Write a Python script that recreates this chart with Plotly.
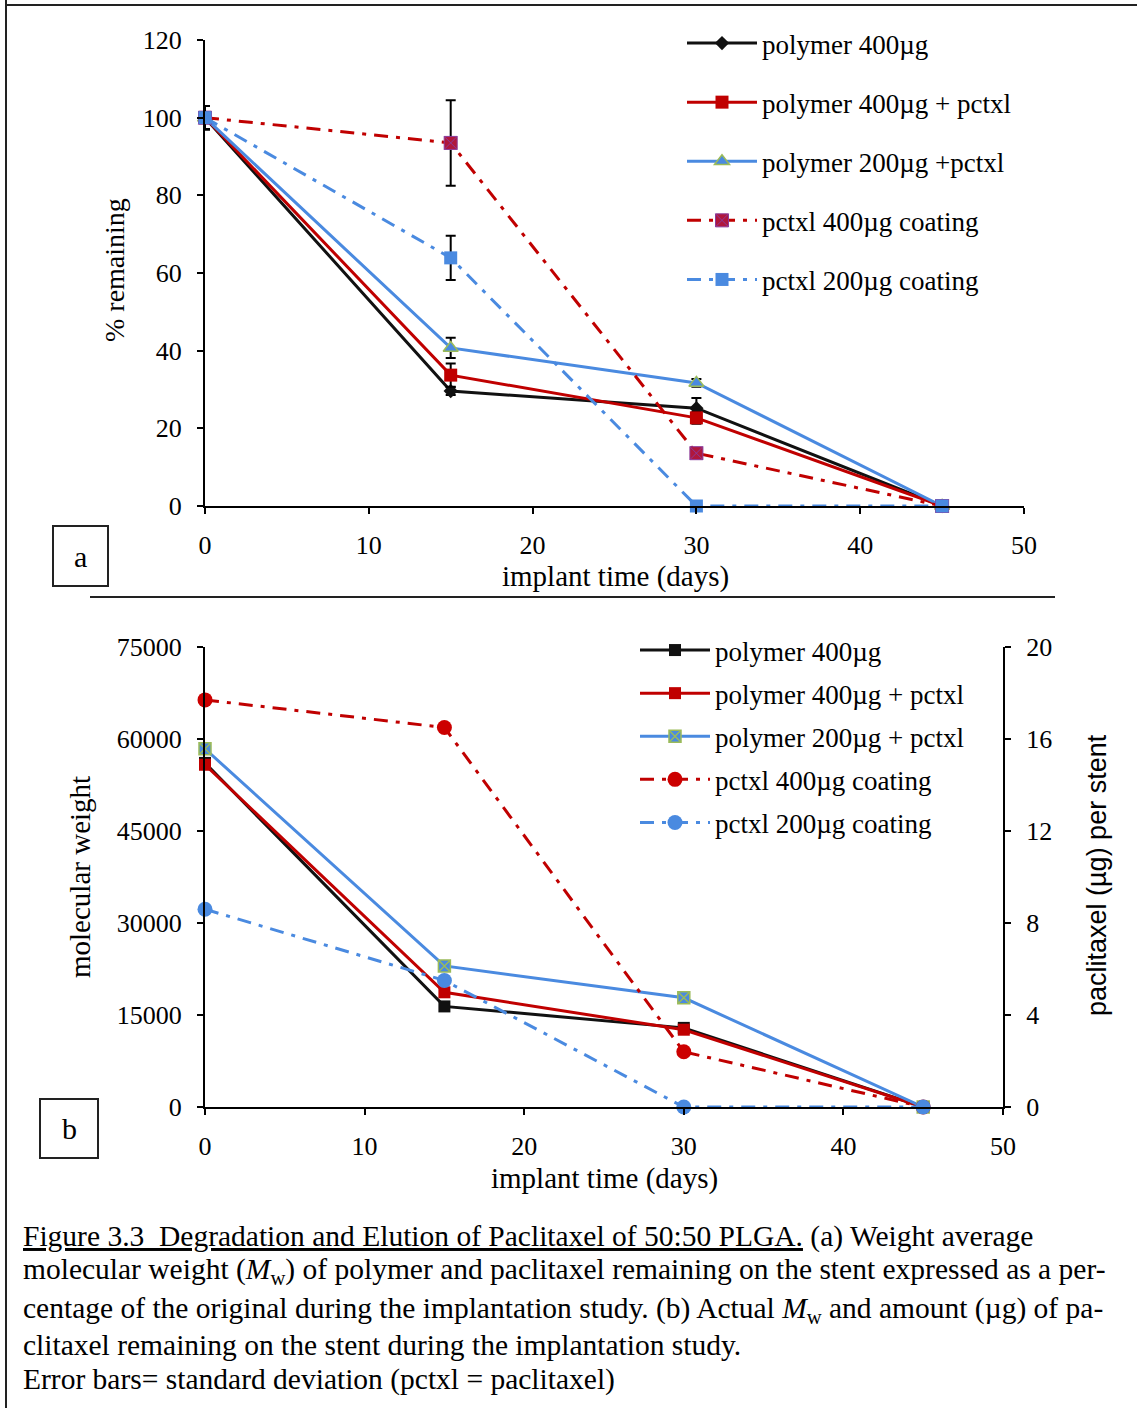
import plotly.graph_objects as go

W, H = 1137, 1408

days = [0, 15, 30, 45]

# (a) percentage of the original remaining
pct_polymer400 = [100, 29.6, 25.2, 0]
pct_polymer400_sd = [3, 1, 2.6, 0]
pct_polymer400_pctxl = [100, 33.7, 22.7, 0]
pct_polymer400_pctxl_sd = [3, 3, 1.5, 0]
pct_polymer200_pctxl = [100, 40.7, 31.7, 0]
pct_polymer200_pctxl_sd = [3, 2.6, 1, 0]
pct_pctxl400 = [100, 93.5, 13.6, 0]
pct_pctxl400_sd = [3, 11, 0, 0]
pct_pctxl200 = [100, 63.9, 0, 0]
pct_pctxl200_sd = [3, 5.7, 0, 0]

# (b) actual Mw (left axis) and paclitaxel per stent in µg (right axis)
mw_polymer400 = [56100, 16400, 12900, 0]
mw_polymer400_pctxl = [55800, 18700, 12600, 0]
mw_polymer200_pctxl = [58400, 23000, 17800, 0]
ug_pctxl400 = [17.7, 16.5, 2.4, 0]
ug_pctxl200 = [8.6, 5.5, 0, 0]

names_a = ["polymer 400µg", "polymer 400µg + pctxl", "polymer 200µg +pctxl",
           "pctxl 400µg coating", "pctxl 200µg coating"]
names_b = ["polymer 400µg", "polymer 400µg + pctxl", "polymer 200µg + pctxl",
           "pctxl 400µg coating", "pctxl 200µg coating"]

BLACK = "#111111"
RED = "#C00000"
BLUE = "#4A8AE0"
GREEN = "#9BBB59"
DASHDOT = "14px,8px,4px,8px"
SERIF = "Liberation Serif, Times New Roman, serif"
SANS = "Liberation Sans, Arial, sans-serif"


def px_x(px):
    return px / W


def px_y(py):
    return 1 - py / H


def err(vals):
    return dict(type="data", array=vals, color="black", thickness=2, width=5)


fig = go.Figure()

# ---- panel (a)
fig.add_trace(go.Scatter(
    x=days, y=pct_polymer400, name=names_a[0], mode="lines+markers",
    line=dict(color=BLACK, width=3), marker=dict(symbol="diamond", size=11, color=BLACK),
    error_y=err(pct_polymer400_sd), xaxis="x", yaxis="y", legend="legend",
    legendgroup="a1", cliponaxis=False))
fig.add_trace(go.Scatter(
    x=days, y=pct_polymer400_pctxl, name=names_a[1], mode="lines+markers",
    line=dict(color=RED, width=3), marker=dict(symbol="square", size=13, color=RED),
    error_y=err(pct_polymer400_pctxl_sd), xaxis="x", yaxis="y", legend="legend",
    legendgroup="a2", cliponaxis=False))
fig.add_trace(go.Scatter(
    x=days, y=pct_polymer200_pctxl, name=names_a[2], mode="lines+markers",
    line=dict(color=BLUE, width=3),
    marker=dict(symbol="triangle-up", size=13, color=BLUE, line=dict(color=GREEN, width=1.5)),
    error_y=err(pct_polymer200_pctxl_sd), xaxis="x", yaxis="y", legend="legend",
    legendgroup="a3", cliponaxis=False))
fig.add_trace(go.Scatter(
    x=days, y=pct_pctxl400, name=names_a[3], mode="lines+markers",
    line=dict(color=RED, width=3, dash=DASHDOT),
    marker=dict(symbol="square-x", size=13, color="#B0173C", line=dict(color="#8A3A9A", width=1)),
    error_y=err(pct_pctxl400_sd), xaxis="x", yaxis="y", legend="legend",
    legendgroup="a4", cliponaxis=False))
fig.add_trace(go.Scatter(
    x=days, y=pct_pctxl200, name=names_a[4], mode="lines+markers",
    line=dict(color=BLUE, width=3, dash=DASHDOT),
    marker=dict(symbol="square", size=13, color=BLUE),
    error_y=err(pct_pctxl200_sd), xaxis="x", yaxis="y", legend="legend",
    legendgroup="a5", cliponaxis=False))

# ---- panel (b)
fig.add_trace(go.Scatter(
    x=days, y=mw_polymer400, name=names_b[0], mode="lines+markers",
    line=dict(color=BLACK, width=3), marker=dict(symbol="square", size=12, color=BLACK),
    xaxis="x2", yaxis="y2", legend="legend2", legendgroup="b1", cliponaxis=False))
fig.add_trace(go.Scatter(
    x=days, y=mw_polymer400_pctxl, name=names_b[1], mode="lines+markers",
    line=dict(color=RED, width=3), marker=dict(symbol="square", size=12, color=RED),
    xaxis="x2", yaxis="y2", legend="legend2", legendgroup="b2", cliponaxis=False))
fig.add_trace(go.Scatter(
    x=days, y=mw_polymer200_pctxl, name=names_b[2], mode="lines+markers",
    line=dict(color=BLUE, width=3),
    marker=dict(symbol="square-x", size=12, color=BLUE, line=dict(color=GREEN, width=1.5)),
    xaxis="x2", yaxis="y2", legend="legend2", legendgroup="b3", cliponaxis=False))
fig.add_trace(go.Scatter(
    x=days, y=ug_pctxl400, name=names_b[3], mode="lines+markers",
    line=dict(color=RED, width=3, dash=DASHDOT),
    marker=dict(symbol="circle", size=15, color="#CC0000"),
    xaxis="x2", yaxis="y3", legend="legend2", legendgroup="b4", cliponaxis=False))
fig.add_trace(go.Scatter(
    x=days, y=ug_pctxl200, name=names_b[4], mode="lines+markers",
    line=dict(color=BLUE, width=3, dash=DASHDOT),
    marker=dict(symbol="circle", size=15, color=BLUE),
    xaxis="x2", yaxis="y3", legend="legend2", legendgroup="b5", cliponaxis=False))

axis_common = dict(
    showline=True, linecolor="black", linewidth=2, mirror=False,
    ticks="outside", ticklen=6, tickwidth=2, tickcolor="black",
    showgrid=False, zeroline=False, fixedrange=True, automargin=False,
    tickfont=dict(family=SERIF, size=26, color="black"),
)

fig.update_layout(
    template="none",
    width=W, height=H, autosize=False,
    margin=dict(l=0, r=0, t=0, b=0, pad=0),
    paper_bgcolor="white", plot_bgcolor="rgba(0,0,0,0)",
    showlegend=True,
    xaxis=dict(axis_common, domain=[px_x(205), px_x(1024)], anchor="y",
               range=[0, 50], dtick=10, tick0=0, ticklabelstandoff=9),
    yaxis=dict(axis_common, domain=[px_y(506), px_y(40)], anchor="x",
               range=[0, 120], dtick=20, tick0=0, ticklabelstandoff=10),
    xaxis2=dict(axis_common, domain=[px_x(205), px_x(1003)], anchor="y2",
                range=[0, 50], dtick=10, tick0=0, ticklabelstandoff=9),
    yaxis2=dict(axis_common, domain=[px_y(1107), px_y(647)], anchor="x2",
                range=[0, 75000], dtick=15000, tick0=0, tickformat="d",
                ticklabelstandoff=10),
    yaxis3=dict(axis_common, overlaying="y2", side="right", anchor="x2",
                range=[0, 20], dtick=4, tick0=0, ticklabelstandoff=10),
    legend=dict(x=px_x(682), y=px_y(19), xanchor="left", yanchor="top",
                bgcolor="rgba(0,0,0,0)", borderwidth=0, traceorder="grouped",
                tracegroupgap=21, itemwidth=70,
                font=dict(family=SERIF, size=27, color="black")),
    legend2=dict(x=px_x(635), y=px_y(626), xanchor="left", yanchor="top",
                 bgcolor="rgba(0,0,0,0)", borderwidth=0, traceorder="grouped",
                 tracegroupgap=5, itemwidth=70,
                 font=dict(family=SERIF, size=27, color="black")),
)

annotations = [
    dict(text="% remaining", x=px_x(114), y=px_y(270), textangle=-90,
         font=dict(family=SERIF, size=28)),
    dict(text="implant time (days)", x=px_x(615), y=px_y(576),
         font=dict(family=SERIF, size=29)),
    dict(text="molecular weight", x=px_x(80), y=px_y(877), textangle=-90,
         font=dict(family=SERIF, size=29)),
    dict(text="paclitaxel (µg) per stent", x=px_x(1097), y=px_y(875), textangle=-90,
         font=dict(family=SANS, size=27)),
    dict(text="implant time (days)", x=px_x(604), y=px_y(1178),
         font=dict(family=SERIF, size=29)),
    dict(text="a", x=px_x(80.5), y=px_y(556), font=dict(family=SERIF, size=30)),
    dict(text="b", x=px_x(69), y=px_y(1128), font=dict(family=SERIF, size=30)),
]

caption = [
    ("<u>Figure 3.3\u00a0 Degradation and Elution of Paclitaxel of 50:50 PLGA.</u>"
     " (a) Weight average", 1236),
    ("molecular weight (<i>M</i><sub>w</sub>) of polymer and paclitaxel remaining on"
     " the stent expressed as a per-", 1271),
    ("centage of the original during the implantation study. (b) Actual"
     " <i>M</i><sub>w</sub> and amount (µg) of pa-", 1310),
    ("clitaxel remaining on the stent during the implantation study.", 1345),
    ("Error bars= standard deviation (pctxl = paclitaxel)", 1379),
]
for txt, ypx in caption:
    annotations.append(dict(text=txt, x=px_x(21), y=px_y(ypx), xanchor="left",
                            font=dict(family=SERIF, size=29.5)))

for a in annotations:
    a.setdefault("xref", "paper")
    a.setdefault("yref", "paper")
    a.setdefault("showarrow", False)
    a.setdefault("xanchor", "center")
    a.setdefault("yanchor", "middle")
    a["font"].setdefault("color", "black")
fig.update_layout(annotations=annotations)

line_style = dict(color="#222222", width=2)
shapes = [
    # frame
    dict(type="line", x0=px_x(6), x1=px_x(6), y0=0, y1=1, line=line_style),
    dict(type="line", x0=px_x(6), x1=1, y0=px_y(5), y1=px_y(5), line=line_style),
    # divider between the panels
    dict(type="line", x0=px_x(90), x1=px_x(1055), y0=px_y(597), y1=px_y(597), line=line_style),
    # panel label boxes
    dict(type="rect", x0=px_x(53), x1=px_x(108), y0=px_y(586), y1=px_y(526),
         line=dict(color="#222222", width=2)),
    dict(type="rect", x0=px_x(40), x1=px_x(98), y0=px_y(1158), y1=px_y(1099),
         line=dict(color="#222222", width=2)),
]
for s in shapes:
    s["xref"] = "paper"
    s["yref"] = "paper"
fig.update_layout(shapes=shapes)

fig.write_html("out.html")
